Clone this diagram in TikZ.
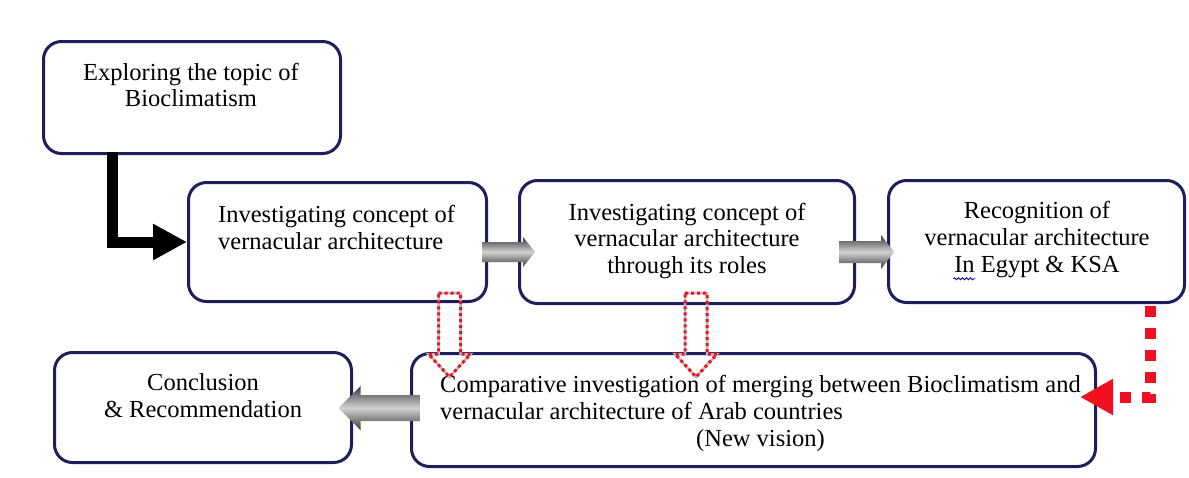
\documentclass[tikz,border=0pt]{standalone}
\usepackage{fontspec}
\setmainfont{Liberation Serif}
\usetikzlibrary{arrows.meta,calc,decorations.pathmorphing}
\definecolor{navy}{HTML}{1B1F5C}
\definecolor{dotred}{HTML}{F01020}
\begin{document}
\begin{tikzpicture}[x=1pt,y=-1pt,
  box/.style={draw=navy, line width=3pt, rounded corners=18pt, inner sep=0pt},
  txt/.style={inner sep=0pt, font=\fontsize{24.5}{26.8}\selectfont},
  grayarrow/.style={shading=axis, top color=gray!45!black, bottom color=gray!45!black, middle color=gray!35, draw=none},
  hollowbase/.style={draw=gray!55, line width=2.5pt},
  hollowdots/.style={draw=dotred, line width=3pt, dash pattern=on 3pt off 3pt},
  reddots/.style={draw=dotred, line width=11pt, dash pattern=on 11pt off 11pt, -{Triangle[length=33pt,width=34pt]}},
  blackarrow/.style={draw=black, line width=11pt, line join=miter, -{Triangle[length=34pt,width=34pt]}},
  spell/.style={draw=blue!70!black, line width=0.8pt, decorate, decoration={snake, amplitude=1pt, segment length=4pt}}
]
\fill[white] (0,0) rectangle (1189,477);
\useasboundingbox (0,0) rectangle (1189,477);

% boxes
\node[box, minimum width=297pt, minimum height=112pt] (b1) at (192,97.5) {};
\node[box, minimum width=298pt, minimum height=119pt] (b2) at (337.5,242) {};
\node[box, minimum width=335pt, minimum height=123pt] (b3) at (687,242) {};
\node[box, minimum width=296pt, minimum height=122pt] (b4) at (1036.5,241.5) {};
\node[box, minimum width=297pt, minimum height=110pt] (b5) at (203,407.5) {};
\node[box, minimum width=684pt, minimum height=113pt] (b6) at (753.5,410) {};

% texts
\node[txt, align=center] (t1) at (191,85) {Exploring the topic of\\Bioclimatism};
\node[txt, align=left, anchor=west] (t2) at (218,227.5) {Investigating concept of\\vernacular architecture};
\node[txt, align=center] (t3) at (687,241) {Investigating concept of\\vernacular architecture\\through its roles};
\node[txt, align=center] (t4) at (1037,239.5) {Recognition of\\vernacular architecture\\In Egypt \& KSA};
\node[txt, align=center] (t5) at (203,396) {Conclusion\\\& Recommendation};
\node[txt, align=left, anchor=north west] (t6) at (440,375.5) {Comparative investigation of merging between Bioclimatism and\\vernacular architecture of Arab countries\\\hspace*{256pt}(New vision)};

% spell-check mark under "In"
\coordinate (sp1) at ($(t4.south west)+(29,1)$);
\coordinate (sp2) at ($(sp1)+(22,0)$);
\draw[spell] (sp1) -- (sp2);

% black L arrow
\coordinate (la) at ($(b1.south west)+(70,-3)$);
\draw[blackarrow] (la) |- (b2.west);

% gray arrows
\coordinate (ga) at ($(b2.east)+(-6,10)$);
\coordinate (gb) at ($(b3.east)+(-17,10)$);
\coordinate (gc) at ($(b6.west)+(10.5,-2)$);
\begin{scope}[shift={(ga)}]
\path[grayarrow] (0,-10) -- (41,-10) -- (41,-15) -- (53,0) -- (41,15) -- (41,10) -- (0,10) -- cycle;
\end{scope}
\begin{scope}[shift={(gb)}]
\path[grayarrow] (0,-11) -- (42,-11) -- (42,-17) -- (55,0) -- (42,17) -- (42,11) -- (0,11) -- cycle;
\end{scope}
\begin{scope}[shift={(gc)}]
\path[grayarrow] (0,-13) -- (-60,-13) -- (-60,-22) -- (-82,0) -- (-60,22) -- (-60,13) -- (0,13) -- cycle;
\end{scope}

% hollow red dotted arrows
\coordinate (d1) at ($(b2.south)+(112,-10)$);
\coordinate (d2) at ($(b3.south)+(9,-12)$);
\foreach \c in {d1,d2}{
  \begin{scope}[shift={(\c)}]
  \draw[hollowbase] (-11,0) -- (11,0) -- (11,61) -- (21,61) -- (0,84) -- (-21,61) -- (-11,61) -- cycle;
  \draw[hollowdots] (-11,0) -- (11,0) -- (11,61) -- (21,61) -- (0,84) -- (-21,61) -- (-11,61) -- cycle;
  \end{scope}
}

% red dotted connector
\coordinate (rs) at ($(b4.south east)+(-36,2)$);
\coordinate (rt) at ($(b6.east)+(-17,-13)$);
\draw[reddots] (rs) |- (rt);
\end{tikzpicture}
\end{document}
